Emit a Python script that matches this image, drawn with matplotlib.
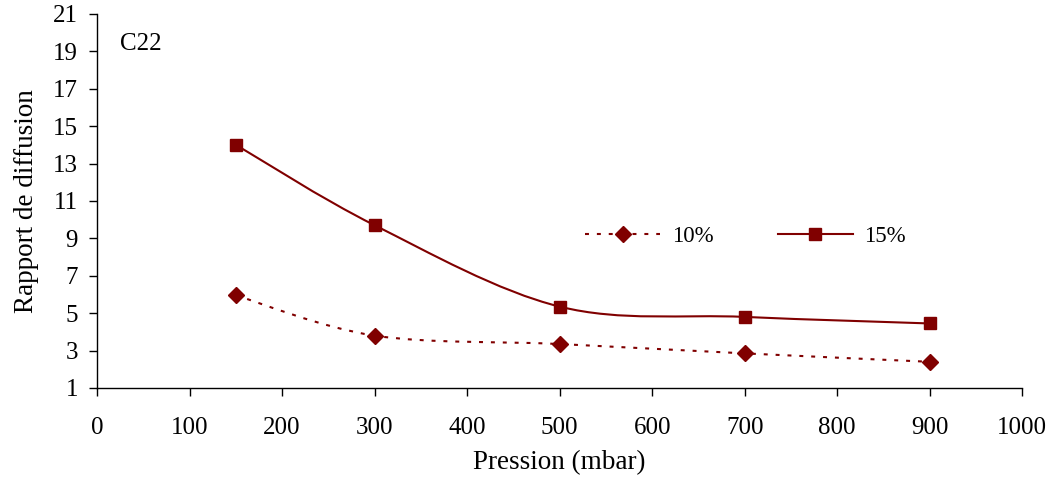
import matplotlib
matplotlib.use('Agg')
import matplotlib.pyplot as plt
import numpy as np
from matplotlib.path import Path
from matplotlib.patches import PathPatch
from matplotlib.lines import Line2D

plt.rcParams['font.family'] = ['Liberation Serif', 'DejaVu Serif']

# données
pression = [150, 300, 500, 700, 900]
rapport_10 = [5.95, 3.8, 3.35, 2.85, 2.4]
rapport_15 = [14.0, 9.7, 5.35, 4.8, 4.45]
labels = ['10%', '15%']

ROUGE = '#800000'
FS = 18
TIRETS = (0, (1.9, 3.8))


def courbe_lissee(x, y):
    # lissage type Excel (Bezier Catmull-Rom)
    pts = np.column_stack([x, y]).astype(float)
    verts = [pts[0]]
    codes = [Path.MOVETO]
    n = len(pts)
    for i in range(n - 1):
        p0 = pts[i - 1] if i > 0 else pts[i]
        p1 = pts[i]
        p2 = pts[i + 1]
        p3 = pts[i + 2] if i + 2 < n else pts[i + 1]
        c1 = p1 + (p2 - p0) / 6.0
        c2 = p2 - (p3 - p1) / 6.0
        verts += [c1, c2, p2]
        codes += [Path.CURVE4] * 3
    return Path(verts, codes)


fig = plt.figure(figsize=(10.55, 4.79), dpi=100)
ax = fig.add_axes([0.092, 0.19, 0.877, 0.781])

for y, ls in [(rapport_10, TIRETS), (rapport_15, '-')]:
    p = courbe_lissee(pression, y)
    ax.add_patch(PathPatch(p, facecolor='none', edgecolor=ROUGE, lw=1.5,
                           linestyle=ls, zorder=2))

ax.plot(pression, rapport_10, linestyle='none', marker='D', ms=8,
        color=ROUGE, zorder=3)
ax.plot(pression, rapport_15, linestyle='none', marker='s', ms=8.5,
        color=ROUGE, zorder=3)

ax.set_xlim(0, 1000)
ax.set_ylim(1, 21)
ax.set_xticks(np.arange(0, 1001, 100))
ax.set_yticks(np.arange(1, 22, 2))
ax.tick_params(direction='out', length=5.8, width=1, labelsize=FS)
ax.tick_params(axis='x', pad=15)
ax.tick_params(axis='y', pad=8)
for s in ['top', 'right']:
    ax.spines[s].set_visible(False)
for s in ['left', 'bottom']:
    ax.spines[s].set_linewidth(1)

ax.set_xlabel('Pression (mbar)', fontsize=19.5, labelpad=8)
ax.set_ylabel('Rapport de diffusion', fontsize=19.5, labelpad=10)
ax.text(0.025, 0.92, 'C22', transform=ax.transAxes, fontsize=FS,
        ha='left', va='center')

handles = [
    Line2D([], [], color=ROUGE, lw=1.5, linestyle=TIRETS,
           marker='D', ms=8),
    Line2D([], [], color=ROUGE, lw=1.5, linestyle='-', marker='s', ms=8.5),
]
ax.legend(handles, labels, ncol=2, frameon=False, fontsize=16.5,
          loc='center left', bbox_to_anchor=(0.518, 0.406),
          borderaxespad=0, handlelength=3.26, numpoints=1,
          columnspacing=2.8, handletextpad=0.52)

fig.savefig('out.png', dpi=100)
